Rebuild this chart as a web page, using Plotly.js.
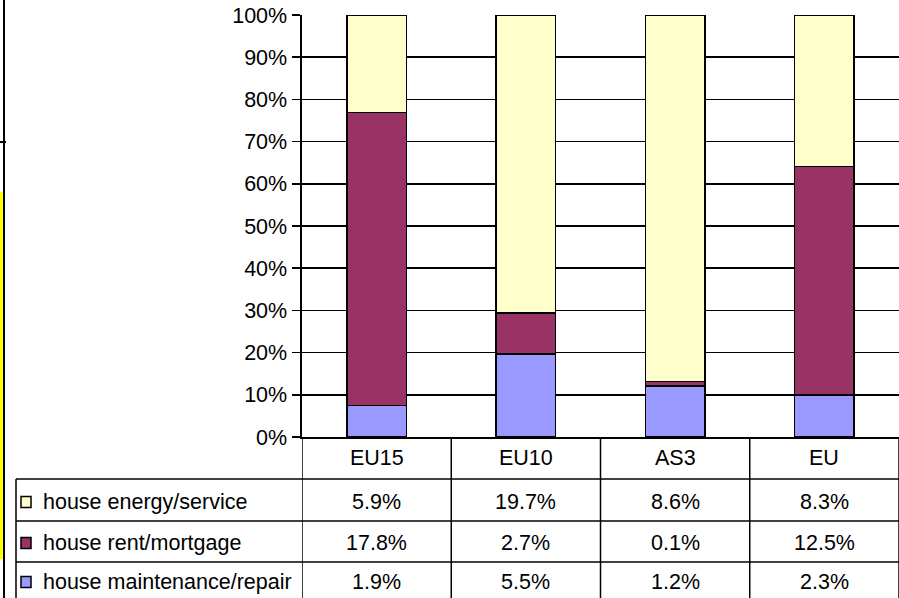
<!DOCTYPE html>
<html>
<head>
<meta charset="utf-8">
<script src="https://cdn.plot.ly/plotly-3.0.1.min.js"></script>
<style>
html,body{margin:0;padding:0;background:#fff;}
#chart{width:899px;height:598px;}
</style>
</head>
<body>
<div id="chart"></div>
<script>
// ---- data ----
var categories = ['EU15', 'EU10', 'AS3', 'EU'];
var seriesNames = ['house maintenance/repair', 'house rent/mortgage', 'house energy/service'];
var maintenance = [1.9, 5.5, 1.2, 2.3];
var rent = [17.8, 2.7, 0.1, 12.5];
var energy = [5.9, 19.7, 8.6, 8.3];
var tableRowNames = ['house energy/service', 'house rent/mortgage', 'house maintenance/repair'];
var tableRows = [energy, rent, maintenance];
var tickValues = [0, 10, 20, 30, 40, 50, 60, 70, 80, 90, 100];
var tickLabels = ['0%', '10%', '20%', '30%', '40%', '50%', '60%', '70%', '80%', '90%', '100%'];

// ---- styles ----
var colors = {
  'house maintenance/repair': '#9999FF',
  'house rent/mortgage': '#993366',
  'house energy/service': '#FFFFCC'
};
var FONT = 'Liberation Sans, Arial, sans-serif';
var FS = 21.5;
var seriesValues = [maintenance, rent, energy];

var traces = seriesNames.map(function (name, i) {
  return {
    type: 'bar',
    name: name,
    x: categories,
    y: seriesValues[i],
    marker: {color: colors[name], line: {color: '#000', width: 1.5}},
    hoverinfo: 'skip'
  };
});

// table geometry (paper coords relative to the plot area)
var W = 899, H = 598, L = 302, T = 15, B = 161;
var plotW = W - L, plotH = H - T - B;
function px2xp(px) { return (px - L) / plotW; }
function py2yp(py) { return (H - B - py) / plotH; }

var shapes = [];
var annotations = [];
var line = {color: '#000', width: 1.5};

// horizontal table lines
[479, 521, 562].forEach(function (py) {
  shapes.push({type: 'line', xref: 'paper', yref: 'paper', x0: px2xp(16), x1: 1.02, y0: py2yp(py), y1: py2yp(py), line: line});
});
// vertical category boundaries in table
for (var k = 0; k <= categories.length; k++) {
  shapes.push({type: 'line', xref: 'x', yref: 'paper', x0: k - 0.5, x1: k - 0.5, y0: 0, y1: py2yp(600), line: line});
}
// table left edge
shapes.push({type: 'line', xref: 'paper', yref: 'paper', x0: px2xp(16), x1: px2xp(16), y0: py2yp(479), y1: py2yp(600), line: line});

// left decorations (frame remnants)
shapes.push({type: 'rect', xref: 'paper', yref: 'paper', x0: px2xp(0), x1: px2xp(4.5), y0: py2yp(559), y1: py2yp(192), fillcolor: '#FFFF00', line: {width: 0}});
shapes.push({type: 'line', xref: 'paper', yref: 'paper', x0: px2xp(4), x1: px2xp(4), y0: py2yp(-5), y1: py2yp(605), line: {color: '#000', width: 2}});
shapes.push({type: 'line', xref: 'paper', yref: 'paper', x0: px2xp(0), x1: px2xp(6), y0: py2yp(142), y1: py2yp(142), line: {color: '#000', width: 2}});

// header row: category labels
categories.forEach(function (c) {
  annotations.push({xref: 'x', yref: 'paper', x: c, y: py2yp(458), text: c, showarrow: false,
    xanchor: 'center', yanchor: 'middle', font: {family: FONT, size: FS, color: '#000'}});
});

// data rows
var rowCenters = [502, 543, 582];
tableRowNames.forEach(function (name, r) {
  var cy = rowCenters[r];
  shapes.push({type: 'rect', xref: 'paper', yref: 'paper', x0: px2xp(21), x1: px2xp(31), y0: py2yp(cy + 5.5), y1: py2yp(cy - 5.5),
    fillcolor: colors[name], line: {color: '#000', width: 1.5}});
  annotations.push({xref: 'paper', yref: 'paper', x: px2xp(41), y: py2yp(cy), text: name, showarrow: false,
    xanchor: 'left', yanchor: 'middle', font: {family: FONT, size: FS, color: '#000'}});
  tableRows[r].forEach(function (v, j) {
    annotations.push({xref: 'x', yref: 'paper', x: categories[j], y: py2yp(cy), text: v.toFixed(1) + '%', showarrow: false,
      xanchor: 'center', yanchor: 'middle', font: {family: FONT, size: FS, color: '#000'}});
  });
});

var layout = {
  width: W, height: H,
  margin: {l: L, r: 0, t: T, b: B, pad: 0},
  paper_bgcolor: '#fff', plot_bgcolor: '#fff',
  barmode: 'stack', barnorm: 'percent', bargap: 0.6,
  showlegend: false,
  font: {family: FONT, size: FS, color: '#000'},
  xaxis: {type: 'category', range: [-0.5, 3.5], showticklabels: false, ticks: '',
    showgrid: false, zeroline: false, showline: true, linecolor: '#000', linewidth: 2, fixedrange: true},
  yaxis: {range: [0, 100], tickvals: tickValues, ticktext: tickLabels, ticks: 'outside', ticklen: 8,
    tickcolor: '#000', tickwidth: 1.5, showgrid: true, gridcolor: '#000', gridwidth: 1.5,
    zeroline: false, showline: true, linecolor: '#000', linewidth: 2.5, mirror: false,
    tickfont: {family: FONT, size: FS, color: '#000'}, fixedrange: true},
  shapes: shapes,
  annotations: annotations
};

Plotly.newPlot('chart', traces, layout, {displayModeBar: false, staticPlot: true});
</script>
</body>
</html>
